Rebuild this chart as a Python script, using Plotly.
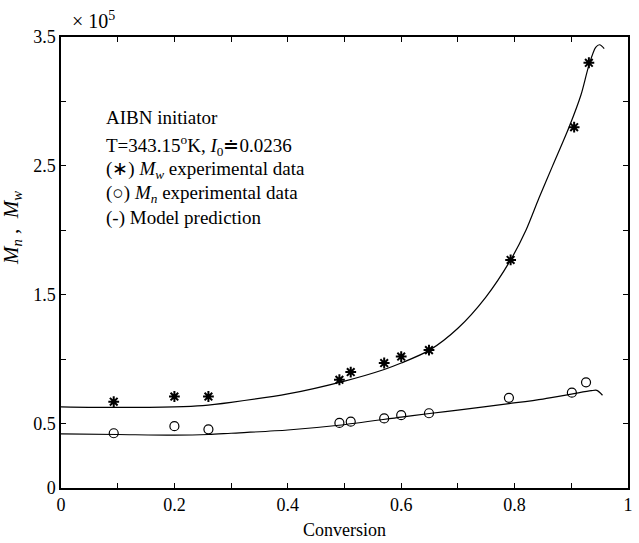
import plotly.graph_objects as go

# Experimental data (conversion, molecular weight x 1e5)
conv_w = [0.093, 0.200, 0.260, 0.491, 0.511, 0.570, 0.600, 0.649, 0.793, 0.905, 0.931]
mw_exp = [0.67, 0.71, 0.71, 0.84, 0.90, 0.97, 1.02, 1.07, 1.77, 2.80, 3.30]

conv_n = [0.093, 0.200, 0.260, 0.491, 0.511, 0.570, 0.600, 0.649, 0.790, 0.901, 0.926]
mn_exp = [0.425, 0.48, 0.455, 0.505, 0.515, 0.54, 0.565, 0.58, 0.70, 0.74, 0.82]

# Model prediction curves
model_conv_w = [0.0, 0.1, 0.2, 0.25, 0.3, 0.4, 0.5, 0.57, 0.6, 0.65, 0.7, 0.749, 0.793,
                0.82, 0.843, 0.867, 0.896, 0.917, 0.931, 0.943, 0.950, 0.958]
model_mw = [0.63, 0.625, 0.63, 0.64, 0.665, 0.73, 0.83, 0.92, 0.97, 1.07, 1.24, 1.48, 1.77,
            2.0, 2.25, 2.5, 2.80, 3.05, 3.28, 3.42, 3.44, 3.41]

model_conv_n = [0.0, 0.1, 0.2, 0.26, 0.3, 0.4, 0.49, 0.6, 0.65, 0.7, 0.79, 0.85, 0.9,
                0.935, 0.945, 0.955]
model_mn = [0.42, 0.415, 0.41, 0.415, 0.425, 0.45, 0.487, 0.55, 0.578, 0.605, 0.655, 0.69,
            0.728, 0.755, 0.758, 0.72]

x_ticks = [0, 0.1, 0.2, 0.3, 0.4, 0.5, 0.6, 0.7, 0.8, 0.9, 1.0]
x_ticktext = ["0", "", "0.2", "", "0.4", "", "0.6", "", "0.8", "", "1"]
y_ticks = [0, 0.5, 1.0, 1.5, 2.0, 2.5, 3.0, 3.5]
y_ticktext = ["0", "0.5", "", "1.5", "", "2.5", "", "3.5"]

legend_lines = [
    "AIBN initiator",
    "T=343.15<sup>o</sup>K, <i>I</i><sub>0</sub>≐0.0236",
    "(∗) <i>M</i><sub><i>w</i></sub> experimental data",
    "(○) <i>M</i><sub><i>n</i></sub> experimental data",
    "(-) Model prediction",
]

FONT = "Liberation Serif"
W, H = 639, 543
L, R, T, B = 61, 11, 37, 55
PW, PH = W - L - R, H - T - B


def px(x):
    return (x - L) / PW


def py(y):
    return (H - B - y) / PH


fig = go.Figure()
fig.add_trace(go.Scatter(x=model_conv_w, y=model_mw, mode="lines",
                         line=dict(color="black", width=1.2, shape="spline", smoothing=0.8),
                         hoverinfo="skip"))
fig.add_trace(go.Scatter(x=model_conv_n, y=model_mn, mode="lines",
                         line=dict(color="black", width=1.2, shape="spline", smoothing=0.8),
                         hoverinfo="skip"))
fig.add_trace(go.Scatter(x=conv_w, y=mw_exp, mode="markers",
                         marker=dict(symbol="asterisk-open", size=9, color="black",
                                     line=dict(color="black", width=2))))
fig.add_trace(go.Scatter(x=conv_n, y=mn_exp, mode="markers",
                         marker=dict(symbol="circle-open", size=9, color="black",
                                     line=dict(color="black", width=1.2))))

axis_common = dict(showline=True, linecolor="black", linewidth=1.5, mirror="ticks",
                   ticks="inside", ticklen=5, tickcolor="black", tickwidth=1,
                   showgrid=False, zeroline=False, automargin=False,
                   tickfont=dict(family=FONT, size=18, color="black"))

fig.update_xaxes(range=[0, 1], tickvals=x_ticks, ticktext=x_ticktext, **axis_common)
fig.update_yaxes(range=[0, 3.5], tickvals=y_ticks, ticktext=y_ticktext, **axis_common)

annotations = []
line_y = [118, 145, 170, 194, 218]
for txt, yy in zip(legend_lines, line_y):
    annotations.append(dict(text=txt, x=px(104), y=py(yy), xref="paper", yref="paper",
                            xanchor="left", yanchor="middle", showarrow=False,
                            font=dict(family=FONT, size=19, color="black")))
annotations.append(dict(text="× 10<sup>5</sup>", x=px(70), y=py(20), xref="paper", yref="paper",
                        xanchor="left", yanchor="middle", showarrow=False,
                        font=dict(family=FONT, size=20, color="black")))
annotations.append(dict(text="<i>M</i><sub><i>n</i></sub> ,  <i>M</i><sub><i>w</i></sub>",
                        x=px(12), y=py(228), xref="paper", yref="paper",
                        xanchor="center", yanchor="middle", textangle=-90, showarrow=False,
                        font=dict(family=FONT, size=21, color="black")))
annotations.append(dict(text="Conversion", x=0.5, y=py(530), xref="paper", yref="paper",
                        xanchor="center", yanchor="middle", showarrow=False,
                        font=dict(family=FONT, size=18, color="black")))

fig.update_layout(width=W, height=H, margin=dict(l=L, r=R, t=T, b=B),
                  paper_bgcolor="white", plot_bgcolor="white", showlegend=False,
                  annotations=annotations)

fig.write_html("out.html")
